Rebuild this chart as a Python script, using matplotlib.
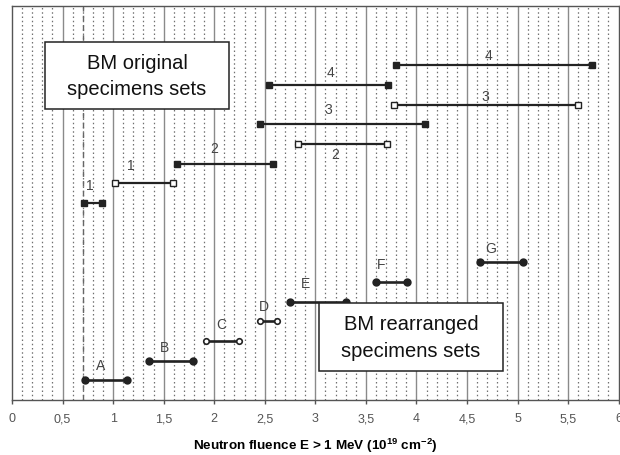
import matplotlib
matplotlib.use("Agg")
import matplotlib.pyplot as plt
from matplotlib.patches import Rectangle
import numpy as np

plt.rcParams['font.family'] = ['Liberation Sans', 'DejaVu Sans']
plt.rcParams['mathtext.fontset'] = 'custom'
plt.rcParams['mathtext.rm'] = 'Liberation Sans'
plt.rcParams['mathtext.bf'] = 'Liberation Sans:bold'

# Original specimen sets: label, fluence start, fluence end, row, filled marker?
orig_labels = ["1", "1", "2", "2", "3", "3", "4", "4"]
orig_start = [0.71, 1.02, 1.63, 2.83, 2.45, 3.78, 2.54, 3.80]
orig_end = [0.89, 1.59, 2.58, 3.71, 4.09, 5.60, 3.72, 5.74]
orig_row = [10, 11, 12, 13, 14, 15, 16, 17]
orig_filled = [True, False, True, False, True, False, True, True]

# Rearranged specimen sets
rearr_labels = ["A", "B", "C", "D", "E", "F", "G"]
rearr_start = [0.72, 1.36, 1.92, 2.45, 2.75, 3.60, 4.63]
rearr_end = [1.14, 1.79, 2.25, 2.62, 3.30, 3.91, 5.05]
rearr_row = [1, 2, 3, 4, 5, 6, 7]
rearr_filled = [True, True, False, False, True, True, True]

# Reference fluence (dashed line)
ref_fluence = 0.7

tick_values = np.arange(0, 6.01, 0.5)
tick_labels = ["0", "0,5", "1", "1,5", "2", "2,5", "3", "3,5", "4", "4,5", "5", "5,5", "6"]

# Label placement (horizontal shift in data units, vertical offset in points)
orig_label_dx = [-0.03, -0.13, -0.11, -0.07, -0.14, -0.01, 0.02, -0.06]
orig_label_dy = [13, 13, 11, -7, 11, 6, 9, 7]
rearr_label_dx = [-0.05, -0.07, -0.02, -0.04, -0.12, -0.10, -0.11]
rearr_label_dy = [11, 10, 12, 11, 13, 13, 10]

fig = plt.figure(figsize=(6.2, 4.56), dpi=100)
ax = fig.add_axes([12 / 620, 1 - 401 / 456, 606.6 / 620, 394 / 456])

ax.set_xlim(0, 6)
ax.set_ylim(0, 20)

# Grid: solid lines every 0.5, dotted lines every 0.1
for x in np.arange(0.1, 6.0, 0.1):
    if abs(x * 2 - round(x * 2)) < 1e-6:
        ax.axvline(x, color="#8a8a8a", lw=1.0, zorder=1)
    else:
        ax.axvline(x, color="#707070", lw=0.9, ls=(0, (1.2, 2.2)), zorder=1)
ax.axvline(ref_fluence, color="#666666", lw=1.0, ls=(0, (4, 3)), zorder=1.5)

text_kw = dict(fontsize=10, color="#444444", ha="center", va="center", zorder=5)

for lab, x0, x1, r, f, dx, dy in zip(orig_labels, orig_start, orig_end, orig_row,
                                      orig_filled, orig_label_dx, orig_label_dy):
    ax.plot([x0, x1], [r, r], color="#222222", lw=1.6, zorder=3,
            marker="s", markersize=5 if f else 4.2,
            markerfacecolor="#222222" if f else "white",
            markeredgecolor="#222222", markeredgewidth=1.0)
    ax.annotate(lab, ((x0 + x1) / 2 + dx, r), xytext=(0, dy),
                textcoords="offset points", **text_kw)

for lab, x0, x1, r, f, dx, dy in zip(rearr_labels, rearr_start, rearr_end, rearr_row,
                                      rearr_filled, rearr_label_dx, rearr_label_dy):
    ax.plot([x0, x1], [r, r], color="#222222", lw=1.9, zorder=3,
            marker="o", markersize=4.8 if f else 4.0,
            markerfacecolor="#222222" if f else "white",
            markeredgecolor="#222222", markeredgewidth=1.2)
    ax.annotate(lab, ((x0 + x1) / 2 + dx, r), xytext=(0, dy),
                textcoords="offset points", **text_kw)

# Annotation boxes (axes coordinates)
for (bx, by, bw, bh), txt in [((0.0544, 0.7386, 0.3033, 0.1700), "BM original\nspecimens sets"),
                              ((0.5060, 0.0736, 0.3034, 0.1726), "BM rearranged\nspecimens sets")]:
    ax.add_patch(Rectangle((bx, by), bw, bh, transform=ax.transAxes, facecolor="white",
                           edgecolor="#222222", lw=1.1, zorder=6))
    ax.text(bx + bw / 2, by + bh / 2, txt, transform=ax.transAxes, fontsize=14.5,
            ha="center", va="center", linespacing=1.5, zorder=7, color="#111111")

ax.set_xticks(tick_values)
ax.set_xticklabels(tick_labels)
ax.set_xticks(np.arange(0, 6.01, 0.1), minor=True)
ax.tick_params(axis="x", which="major", length=3, width=1, color="#555555",
               labelsize=9, labelcolor="#555555", pad=6)
ax.tick_params(axis="x", which="minor", length=0)
ax.set_yticks([])

for s in ax.spines.values():
    s.set_color("#555555")
    s.set_linewidth(1.0)

ax.set_xlabel(r"Neutron fluence E > 1 MeV (10$^{\mathbf{19}}$ cm$^{\mathbf{-2}}$)", fontsize=9.7,
              fontweight="bold", labelpad=8)

fig.savefig("out.png", dpi=100)
